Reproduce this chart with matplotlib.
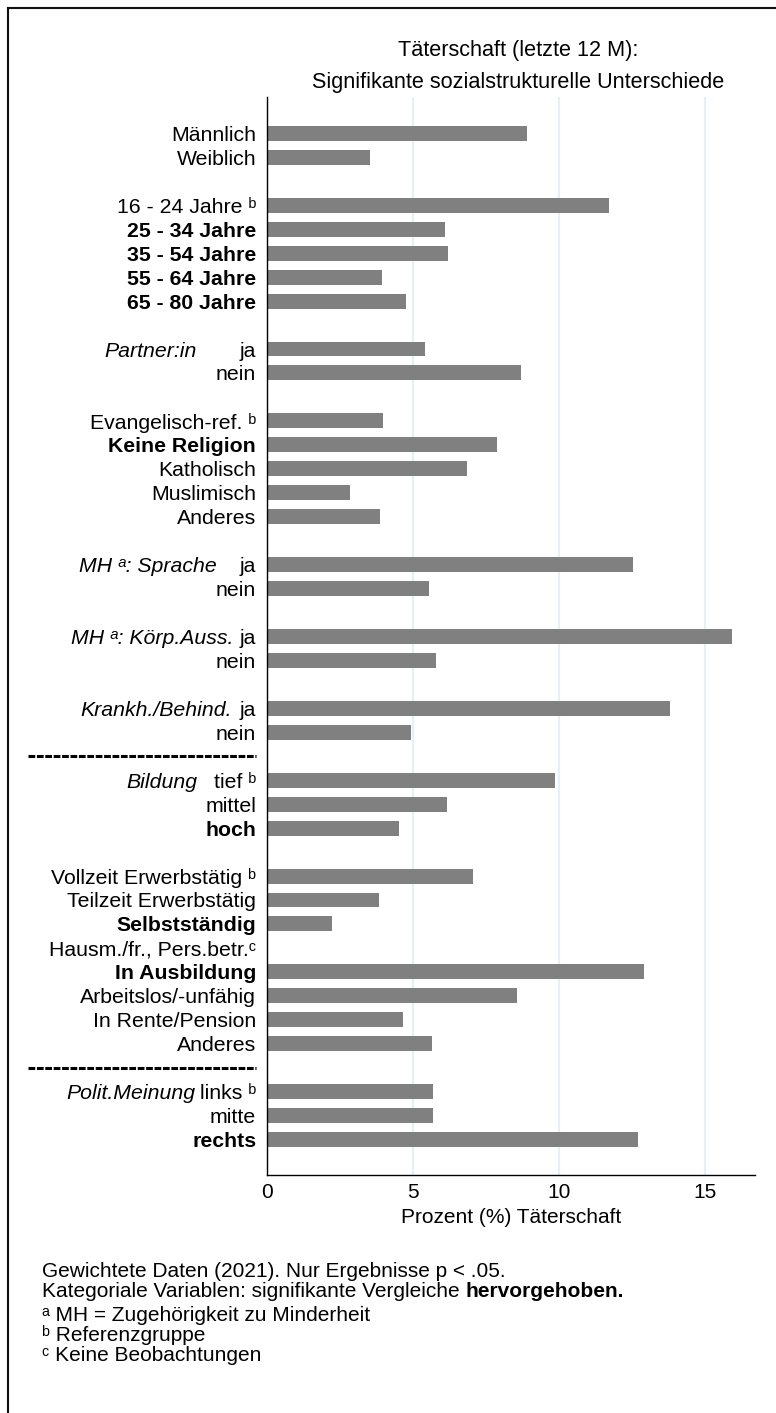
import numpy as np
import matplotlib.pyplot as plt
from matplotlib.lines import Line2D
from matplotlib.transforms import blended_transform_factory

plt.rcParams['font.family'] = ['Liberation Sans', 'DejaVu Sans']

# Werte (% Täterschaft, letzte 12 Monate), von oben nach unten
sex_labels = ["Männlich", "Weiblich"]
sex_values = [8.90, 3.52]

age_labels = ["16 - 24 Jahre ᵇ", "25 - 34 Jahre", "35 - 54 Jahre", "55 - 64 Jahre", "65 - 80 Jahre"]
age_values = [11.71, 6.09, 6.19, 3.93, 4.75]

partner_labels = ["ja", "nein"]
partner_values = [5.40, 8.69]

religion_labels = ["Evangelisch-ref. ᵇ", "Keine Religion", "Katholisch", "Muslimisch", "Anderes"]
religion_values = [3.96, 7.87, 6.84, 2.83, 3.86]

sprache_labels = ["ja", "nein"]
sprache_values = [12.53, 5.54]

koerper_labels = ["ja", "nein"]
koerper_values = [15.92, 5.78]

krank_labels = ["ja", "nein"]
krank_values = [13.80, 4.92]

bildung_labels = ["tief ᵇ", "mittel", "hoch"]
bildung_values = [9.86, 6.16, 4.51]

erwerb_labels = ["Vollzeit Erwerbstätig ᵇ", "Teilzeit Erwerbstätig", "Selbstständig",
                 "Hausm./fr., Pers.betr.ᶜ", "In Ausbildung", "Arbeitslos/-unfähig",
                 "In Rente/Pension", "Anderes"]
erwerb_values = [7.05, 3.83, 2.22, np.nan, 12.91, 8.56, 4.65, 5.64]

polit_labels = ["links ᵇ", "mitte", "rechts"]
polit_values = [5.68, 5.68, 12.71]

groups = [
    (sex_labels, sex_values, None),
    (age_labels, age_values, None),
    (partner_labels, partner_values, "Partner:in"),
    (religion_labels, religion_values, None),
    (sprache_labels, sprache_values, "MH ᵃ: Sprache"),
    (koerper_labels, koerper_values, "MH ᵃ: Körp.Auss."),
    (krank_labels, krank_values, "Krankh./Behind."),
    (bildung_labels, bildung_values, "Bildung"),
    (erwerb_labels, erwerb_values, None),
    (polit_labels, polit_values, "Polit.Meinung"),
]
# signifikant abweichend -> fett
bold_rows = {(1, 1), (1, 2), (1, 3), (1, 4), (3, 1), (7, 2), (8, 2), (8, 4), (9, 2)}
# gestrichelte Trennlinie vor diesen Gruppen
dashed_before = [7, 9]
# rechter Rand der Gruppentitel (px)
title_right = {2: 197, 4: 217, 5: 233, 6: 232, 7: 197, 9: 195}

W, H = 776, 1413
fig = plt.figure(figsize=(W / 100, H / 100), dpi=100)
ax = fig.add_axes([267.3 / W, 1 - 1175 / H, (755 - 267.3) / W, (1175 - 97) / H])

pos, labs, vals, bold, sep_rows, title_rows = [], [], [], [], {}, {}
row = 0
for g, (lab, val, title) in enumerate(groups):
    if g > 0:
        sep_rows[g] = row
        row += 1
    if title:
        title_rows[g] = row
    for k, (l, v) in enumerate(zip(lab, val)):
        pos.append(row)
        labs.append(l)
        vals.append(v)
        bold.append((g, k) in bold_rows)
        row += 1
pos = np.array(pos)
vals = np.array(vals)

ok = ~np.isnan(vals)
ax.barh(pos[ok], vals[ok], height=0.625, color='#808080', zorder=2)

ax.set_xlim(0, 16.71)
ax.set_ylim(pos.max() + 1.48, -1.52)
ax.set_xticks([0, 5, 10, 15])
ax.set_yticks(pos)
ax.set_yticklabels(labs, fontsize=15.3)
for t, b in zip(ax.get_yticklabels(), bold):
    if b:
        t.set_fontweight('bold')
ax.tick_params(axis='y', length=0, pad=8)
ax.tick_params(axis='x', length=0, pad=6, labelsize=15)
ax.set_xlabel("Prozent (%) Täterschaft", fontsize=15, labelpad=4)

for s in ['top', 'right']:
    ax.spines[s].set_visible(False)
for s in ['left', 'bottom']:
    ax.spines[s].set_linewidth(1.0)
ax.xaxis.grid(True, color='#e8f0f3', linewidth=1.6, zorder=0)
ax.set_axisbelow(True)

tr = blended_transform_factory(fig.transFigure, ax.transData)
for g, r in title_rows.items():
    ax.text(title_right[g] / W, r, groups[g][2], transform=tr, ha='right',
            va='center_baseline', fontsize=15.3, style='italic')
for g in dashed_before:
    r = sep_rows[g]
    ax.plot([28 / W, 256 / W], [r, r], transform=tr, color='black', lw=2.2,
            linestyle=(0, (2.2, 0.55)), clip_on=False, solid_capstyle='butt')

fig.text(518 / W, 1 - 56 / H, "Täterschaft (letzte 12 M):", ha='center', va='baseline', fontsize=15.6)
fig.text(518 / W, 1 - 88 / H, "Signifikante sozialstrukturelle Unterschiede", ha='center',
         va='baseline', fontsize=15.6)

# Fussnoten
fs = 15
fig.text(42 / W, 1 - 1277 / H, "Gewichtete Daten (2021). Nur Ergebnisse p < .05.",
         va='baseline', fontsize=fs)
t2 = fig.text(42 / W, 1 - 1297 / H, "Kategoriale Variablen: signifikante Vergleiche ",
              va='baseline', fontsize=fs)
ax.annotate("hervorgehoben.", xy=(1, 0), xycoords=t2, va='bottom', ha='left',
            fontsize=fs, fontweight='bold', annotation_clip=False)
fig.text(42 / W, 1 - 1321 / H, "ᵃ MH = Zugehörigkeit zu Minderheit", va='baseline', fontsize=fs)
fig.text(42 / W, 1 - 1341 / H, "ᵇ Referenzgruppe", va='baseline', fontsize=fs)
fig.text(42 / W, 1 - 1361 / H, "ᶜ Keine Beobachtungen", va='baseline', fontsize=fs)

# Rahmen (oben und links)
fig.add_artist(Line2D([8 / W, 1], [1 - 8 / H, 1 - 8 / H], transform=fig.transFigure,
                      color='#111111', lw=1.5))
fig.add_artist(Line2D([8 / W, 8 / W], [1 - 8 / H, 0], transform=fig.transFigure,
                      color='#111111', lw=1.5))

fig.savefig("out.png", dpi=100, facecolor='white')
